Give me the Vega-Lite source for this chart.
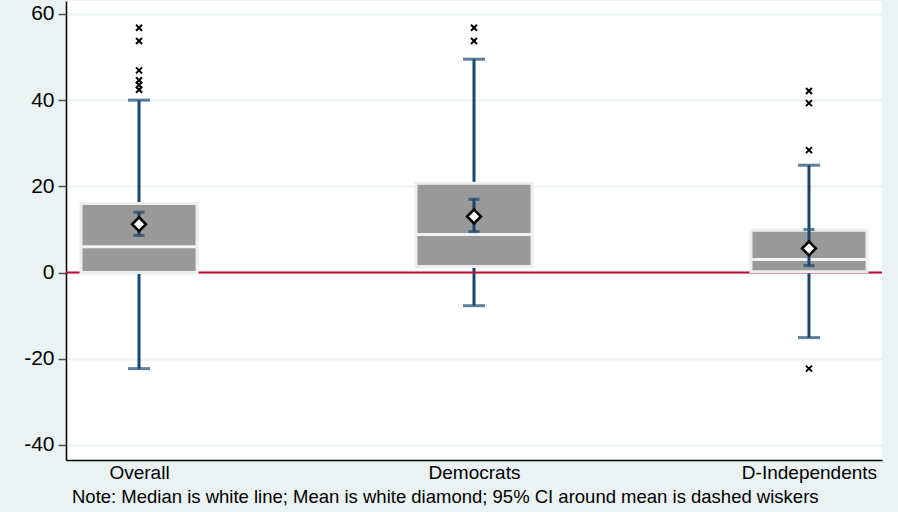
{
  "$schema": "https://vega.github.io/schema/vega-lite/v6.json",
  "width": 816,
  "height": 459,
  "autosize": {"type": "none"},
  "padding": {"left": 66, "top": 1, "right": 16, "bottom": 52},
  "background": "#eaf2f3",
  "config": {
    "view": {"fill": "white", "stroke": null},
    "font": "Liberation Sans"
  },
  "datasets": {
    "stats": [
      {"group": "Overall", "lower": -22.3, "q1": 0, "median": 6.0, "q3": 16.0, "upper": 40.0, "mean": 11.2, "cilo": 8.6, "cihi": 14.0},
      {"group": "Democrats", "lower": -7.7, "q1": 1.4, "median": 8.8, "q3": 20.7, "upper": 49.5, "mean": 13.0, "cilo": 9.5, "cihi": 17.0},
      {"group": "D-Independents", "lower": -15.1, "q1": 0.2, "median": 3.0, "q3": 9.8, "upper": 24.9, "mean": 5.6, "cilo": 1.6, "cihi": 10.0}
    ],
    "outliers": [
      {"group": "Overall", "value": 56.8},
      {"group": "Overall", "value": 53.7},
      {"group": "Overall", "value": 46.9},
      {"group": "Overall", "value": 44.6},
      {"group": "Overall", "value": 43.5},
      {"group": "Overall", "value": 42.4},
      {"group": "Democrats", "value": 56.8},
      {"group": "Democrats", "value": 53.7},
      {"group": "D-Independents", "value": 42.1},
      {"group": "D-Independents", "value": 39.3},
      {"group": "D-Independents", "value": 28.4},
      {"group": "D-Independents", "value": -22.3}
    ]
  },
  "title": {
    "text": "Note: Median is white line; Mean is white diamond; 95% CI around mean is dashed wiskers",
    "orient": "bottom",
    "anchor": "start",
    "frame": "group",
    "dx": 6,
    "offset": 6,
    "fontSize": 18.5,
    "fontWeight": "normal",
    "font": "Liberation Sans",
    "color": "black"
  },
  "encoding": {
    "x": {
      "field": "group",
      "type": "nominal",
      "sort": ["Overall", "Democrats", "D-Independents"],
      "scale": {"type": "point", "padding": 0.218},
      "axis": {
        "title": null,
        "labelAngle": 0,
        "labelFontSize": 19,
        "labelColor": "black",
        "labelPadding": 3,
        "ticks": false,
        "domainColor": "black",
        "domainWidth": 1.5,
        "grid": false
      }
    }
  },
  "layer": [
    {
      "data": {"name": "stats"},
      "mark": {"type": "rule", "color": "#1a476f", "strokeWidth": 3},
      "encoding": {
        "y": {
          "field": "lower",
          "type": "quantitative",
          "scale": {"domain": [-43.5, 63], "nice": false, "zero": false},
          "axis": {
            "title": null,
            "values": [-40, -20, 0, 20, 40, 60],
            "labelExpr": "toString(datum.value)",
            "labelFontSize": 21,
            "labelColor": "black",
            "tickSize": 8,
            "tickColor": "#555555",
            "tickWidth": 1.5,
            "labelPadding": 4,
            "domainColor": "black",
            "domainWidth": 1.5,
            "gridColor": "#eaf2f3",
            "gridWidth": 2
          }
        },
        "y2": {"field": "upper"}
      }
    },
    {
      "data": {"name": "stats"},
      "mark": {"type": "tick", "color": "#1a476f", "size": 22, "thickness": 3},
      "encoding": {"y": {"field": "lower", "type": "quantitative"}}
    },
    {
      "data": {"name": "stats"},
      "mark": {"type": "tick", "color": "#1a476f", "size": 22, "thickness": 3},
      "encoding": {"y": {"field": "upper", "type": "quantitative"}}
    },
    {
      "data": {"values": [{"z": 0}]},
      "mark": {"type": "rule", "color": "#c10534", "strokeWidth": 2},
      "encoding": {"y": {"field": "z", "type": "quantitative"}, "x": {"value": 0}, "x2": {"value": 816}}
    },
    {
      "data": {"name": "stats"},
      "mark": {"type": "bar", "size": 116, "fill": "#999999", "stroke": "#eeeeee", "strokeWidth": 3},
      "encoding": {"y": {"field": "q1", "type": "quantitative"}, "y2": {"field": "q3"}}
    },
    {
      "data": {"name": "stats"},
      "mark": {"type": "tick", "color": "#f2f2f2", "size": 114, "thickness": 3, "opacity": 1},
      "encoding": {"y": {"field": "median", "type": "quantitative"}}
    },
    {
      "data": {"name": "stats"},
      "mark": {"type": "rule", "color": "#1a476f", "strokeWidth": 3},
      "encoding": {"y": {"field": "cilo", "type": "quantitative"}, "y2": {"field": "cihi"}}
    },
    {
      "data": {"name": "stats"},
      "mark": {"type": "tick", "color": "#1a476f", "size": 11, "thickness": 3},
      "encoding": {"y": {"field": "cilo", "type": "quantitative"}}
    },
    {
      "data": {"name": "stats"},
      "mark": {"type": "tick", "color": "#1a476f", "size": 11, "thickness": 3},
      "encoding": {"y": {"field": "cihi", "type": "quantitative"}}
    },
    {
      "data": {"name": "stats"},
      "mark": {"type": "point", "shape": "diamond", "size": 190, "filled": true, "fill": "white", "stroke": "black", "strokeWidth": 2.5, "opacity": 1},
      "encoding": {"y": {"field": "mean", "type": "quantitative"}}
    },
    {
      "data": {"name": "outliers"},
      "mark": {"type": "point", "shape": "M-1,-1L1,1M-1,1L1,-1", "size": 36, "filled": false, "stroke": "black", "strokeWidth": 2, "opacity": 1},
      "encoding": {"y": {"field": "value", "type": "quantitative"}}
    }
  ]
}
